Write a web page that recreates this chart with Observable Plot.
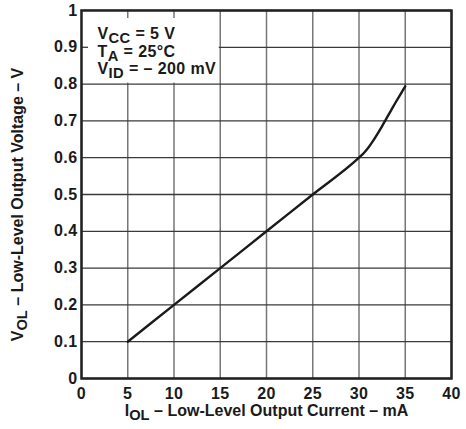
<!DOCTYPE html>
<html>
<head>
<meta charset="utf-8">
<script src="https://cdn.jsdelivr.net/npm/d3@7"></script>
<script src="https://cdn.jsdelivr.net/npm/@observablehq/plot@0.6"></script>
<style>
  html, body { margin: 0; padding: 0; background: #fff; }
  #chart { width: 466px; height: 429px; }
</style>
</head>
<body>
<div id="chart"></div>
<script>
// ---- data ----
const currents = [5, 10, 15, 20, 25, 30, 30.5, 31, 31.5, 32, 32.5, 33, 33.5, 34, 34.5, 35];
const voltages = [0.1, 0.2, 0.3, 0.4, 0.5, 0.6, 0.612, 0.627, 0.645, 0.665, 0.686, 0.708, 0.73, 0.752, 0.773, 0.794];
const xTicks = [0, 5, 10, 15, 20, 25, 30, 35, 40];
const yTicks = [0, 0.1, 0.2, 0.3, 0.4, 0.5, 0.6, 0.7, 0.8, 0.9, 1];
const yTickLabels = ["0", "0.1", "0.2", "0.3", "0.4", "0.5", "0.6", "0.7", "0.8", "0.9", "1"];
const conditions = ["V_{CC} = 5 V", "T_{A} = 25°C", "V_{ID} = – 200 mV"];
const xLabel = "I_{OL} – Low-Level Output Current – mA";
const yLabel = "V_{OL} – Low-Level Output Voltage – V";
const boxX = [0, 15];
const boxY = [0.8, 1];
const stubX = [5, 10];
const stubY = [0.9];

const data = currents.map((c, i) => ({c, v: voltages[i]}));

const W = 466, H = 429;
const mL = 81, mR = 15, mT = 10, mB = 51;
const plotW = W - mL - mR, plotH = H - mT - mB;
const FONT = "'Liberation Sans', Arial, sans-serif";

const chart = Plot.plot({
  width: W,
  height: H,
  marginLeft: mL,
  marginRight: mR,
  marginTop: mT,
  marginBottom: mB,
  style: {fontFamily: FONT, fontWeight: "bold", fontSize: "15px", color: "#1a1a1a", background: "#fff"},
  x: {domain: [0, 40]},
  y: {domain: [0, 1]},
  marks: [
    Plot.gridX(xTicks, {stroke: "#777", strokeOpacity: 1, strokeWidth: 1.5}),
    Plot.gridY(yTicks, {stroke: "#3a3a3a", strokeOpacity: 1, strokeWidth: 1.3}),
    Plot.rect([{x1: boxX[0], x2: boxX[1], y1: boxY[0], y2: boxY[1]}],
      {x1: "x1", x2: "x2", y1: "y1", y2: "y2", fill: "white", insetRight: 1, insetBottom: 1}),
    Plot.tickX(stubX, {x: d => d, stroke: "#777", strokeWidth: 1.5, insetBottom: plotH - 8}),
    Plot.tickY(stubY, {y: d => d, stroke: "#3a3a3a", strokeWidth: 1.3, insetRight: plotW - 7}),
    Plot.line(data, {x: "c", y: "v", curve: "monotone-x", stroke: "#1a1a1a", strokeWidth: 2.4}),
    Plot.frame({stroke: "#222", strokeWidth: 2.5}),
    Plot.axisX(xTicks, {tickSize: 0, tickPadding: 9, label: null, fontSize: 16, fill: "#1a1a1a"}),
    Plot.axisY(yTicks, {tickSize: 0, tickPadding: 4, label: null, fontSize: 16, fill: "#1a1a1a",
      tickFormat: d => yTickLabels[yTicks.indexOf(d)]}),
    ...conditions.map((t, i) => Plot.text([t], {
      text: d => d, frameAnchor: "top-left", textAnchor: "start", dx: 16, dy: 17 + i * 17.8,
      fontSize: 16, fill: "#1a1a1a", className: "cond"
    })),
    Plot.text([xLabel], {text: d => d, frameAnchor: "bottom", dy: 37, fontSize: 16, fill: "#1a1a1a"}),
    Plot.text([yLabel], {text: d => d, frameAnchor: "left", rotate: -90, dx: -64, dy: 10, textAnchor: "middle", fontSize: 16, fill: "#1a1a1a"})
  ]
});

const svg = d3.select(chart);
// slight widening to match the reference lettering
svg.selectAll("[aria-label='x-axis tick label'] text, [aria-label='y-axis tick label'] text")
  .style("letter-spacing", "0.4px");
svg.selectAll(".cond text").style("letter-spacing", "0.4px");

// subscript rendering: turn "_{...}" into lowered tspans
svg.selectAll("text").each(function () {
  const el = this;
  if (el.querySelector("tspan")) return;
  const s = el.textContent;
  if (!s.includes("_{")) return;
  const parts = s.split(/(_\{[^}]*\})/);
  el.textContent = "";
  const shift = 4;
  let lowered = false;
  for (const p of parts) {
    if (!p) continue;
    const m = p.match(/^_\{([^}]*)\}$/);
    const t = document.createElementNS("http://www.w3.org/2000/svg", "tspan");
    if (m) {
      t.textContent = m[1];
      t.setAttribute("font-size", "0.92em");
      t.setAttribute("dy", lowered ? 0 : shift);
      lowered = true;
    } else {
      t.textContent = p;
      if (lowered) { t.setAttribute("dy", -shift); lowered = false; }
    }
    el.appendChild(t);
  }
});

document.getElementById("chart").appendChild(chart);
</script>
</body>
</html>
